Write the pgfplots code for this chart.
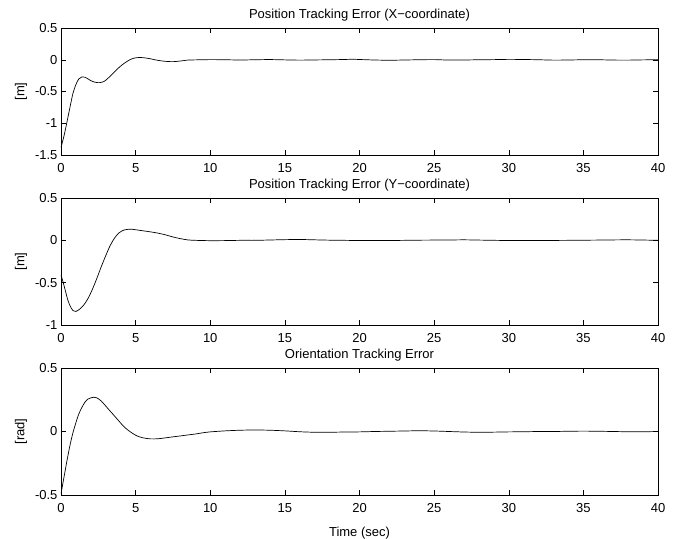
\documentclass[border=0pt]{standalone}
\usepackage{fontspec}
\setmainfont{Liberation Sans}
\usepackage{pgfplots}
\pgfplotsset{compat=1.18}

\pgfplotsset{
  errax/.style={
    width=597pt, height=127pt, scale only axis,
    anchor=north west,
    xmin=0, xmax=40, xtick={0,5,...,40},
    tick align=inside, major tick length=5pt,
    tick style={black, line width=0.5pt},
    axis line style={line width=0.6pt},
    font=\fontsize{13}{15}\selectfont,
    /pgf/number format/assume math mode=true,
    xticklabel style={yshift=-5pt},
    title style={yshift=-3pt},
    ylabel style={at={(axis description cs:0,0.5)}, anchor=center, yshift=40pt},
    xlabel style={yshift=-7pt},
    every axis plot/.append style={black, line width=0.7pt},
  }
}

\begin{document}
\begin{tikzpicture}
\path[use as bounding box] (0pt,0pt) rectangle (677pt,-538pt);

% X error
\begin{axis}[errax, at={(61pt,-28pt)},
  ymin=-1.5, ymax=0.5, ytick={-1.5,-1,...,0.5},
  title={Position Tracking Error (X−coordinate)}, ylabel={[m]}]
\addplot[smooth] coordinates {
(0,-1.38)(0.2,-1.2)(0.4,-0.98)(0.6,-0.75)(0.8,-0.53)(1.0,-0.39)(1.2,-0.3)
(1.4,-0.27)(1.6,-0.275)(1.8,-0.3)(2.0,-0.33)(2.3,-0.355)(2.6,-0.36)(2.9,-0.34)
(3.2,-0.28)(3.5,-0.21)(3.8,-0.14)(4.1,-0.08)(4.4,-0.03)(4.7,0.01)(5.0,0.03)
(5.3,0.035)(5.6,0.03)(6.0,0.015)(6.5,-0.01)(7.0,-0.025)(7.5,-0.03)(8.0,-0.02)
(8.5,-0.005)(9,-0.002)(10,0.002)(11,0)(12,-0.004)(13,0)(14,0.003)(15,-0.002)
(16,-0.006)(17,-0.003)(18,0)(19,0.004)(19.5,0.008)(20,0.004)(21,-0.004)
(22,-0.008)(23,-0.004)(24,0)(25,0.002)(26,-0.005)(27,-0.004)(28,0)(29,0.002)
(30,0.006)(31,0.004)(32,0)(33,-0.006)(34,-0.004)(35,0)(36,0)(37,-0.005)
(38,-0.006)(39,-0.002)(40,0)};
\end{axis}

% Y error
\begin{axis}[errax, at={(61pt,-198pt)},
  ymin=-1, ymax=0.5, ytick={-1,-0.5,...,0.5},
  title={Position Tracking Error (Y−coordinate)}, ylabel={[m]}]
\addplot[smooth] coordinates {
(0,-0.41)(0.15,-0.5)(0.3,-0.6)(0.45,-0.7)(0.6,-0.77)(0.8,-0.83)(1.0,-0.84)
(1.2,-0.82)(1.5,-0.77)(1.8,-0.69)(2.1,-0.58)(2.4,-0.45)(2.7,-0.31)(3.0,-0.18)
(3.3,-0.06)(3.6,0.03)(3.9,0.09)(4.2,0.12)(4.5,0.13)(4.8,0.13)(5.2,0.12)
(5.6,0.11)(6.0,0.10)(6.5,0.085)(7.0,0.065)(7.5,0.04)(8.0,0.02)(8.5,0.005)
(9,0)(10,-0.004)(11,-0.003)(12,0)(13,0)(14,0.004)(15,0.008)(16,0.01)
(17,0.006)(18,0.002)(19,0)(20,-0.002)(22,-0.002)(24,0.002)(26,0.004)
(27,0.006)(28,0.003)(30,-0.002)(32,-0.002)(34,0)(36,0.003)(38,0.006)(40,0)};
\end{axis}

% Orientation error
\begin{axis}[errax, at={(61pt,-368pt)},
  ymin=-0.5, ymax=0.5, ytick={-0.5,0,0.5},
  title={Orientation Tracking Error}, ylabel={[rad]}, xlabel={Time (sec)}]
\addplot[smooth] coordinates {
(0,-0.49)(0.2,-0.36)(0.4,-0.23)(0.6,-0.11)(0.8,-0.01)(1.0,0.07)(1.2,0.14)
(1.4,0.19)(1.6,0.23)(1.8,0.255)(2.0,0.265)(2.2,0.27)(2.4,0.265)(2.7,0.24)
(3.0,0.2)(3.3,0.16)(3.6,0.12)(3.9,0.08)(4.2,0.04)(4.5,0.01)(4.8,-0.015)
(5.1,-0.035)(5.5,-0.05)(6.0,-0.058)(6.5,-0.057)(7.0,-0.05)(7.5,-0.042)
(8.0,-0.035)(8.5,-0.027)(9.0,-0.02)(9.5,-0.01)(10,-0.003)(11,0.005)(12,0.01)
(13,0.012)(14,0.01)(15,0.005)(16,-0.002)(17,-0.006)(18,-0.006)(19,-0.004)
(20,-0.003)(21,0)(22,0.002)(23,0.004)(24,0.006)(25,0.004)(26,0)(27,-0.004)
(28,-0.006)(29,-0.005)(30,-0.003)(31,-0.002)(32,0)(33,0)(34,0.002)(35,0.003)
(36,0.002)(37,0)(38,-0.002)(39,-0.002)(40,0)};
\end{axis}
\end{tikzpicture}
\end{document}
